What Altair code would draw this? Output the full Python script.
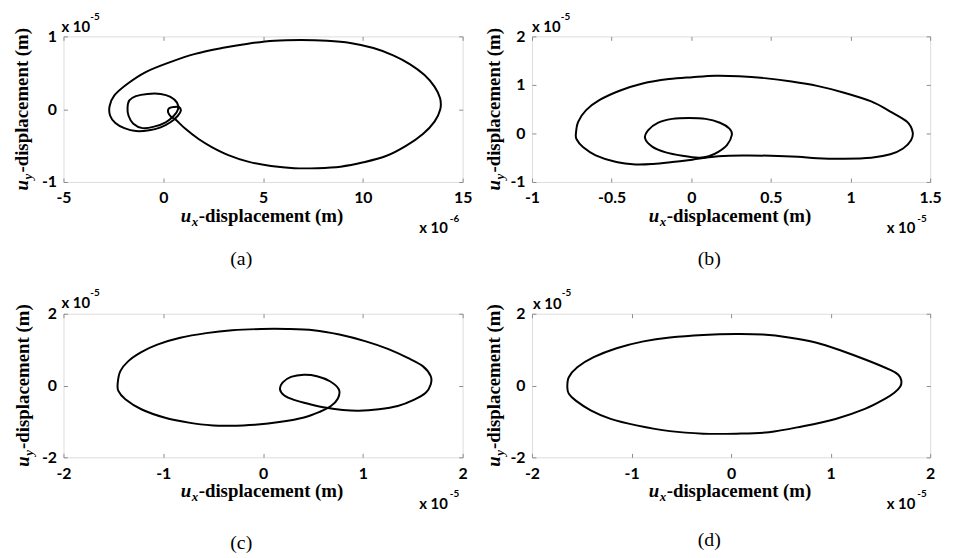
import altair as alt
import pandas as pd

# ---------------- data (x in multiplier units shown on each axis) ----------------
# (a) x in 1e-6 m, y in 1e-5 m
a_big_x = [0.61, 1.11, 1.77, 2.43, 3.26, 4.25, 5.40, 6.56, 7.72, 8.88, 10.03, 11.19, 12.18, 13.01,
           13.59, 13.88, 13.87, 13.59, 13.09, 12.35, 11.52, 10.53, 9.37, 8.21, 6.89, 5.57, 4.25, 2.93,
           1.60, 0.28, -0.88, -1.79, -2.45, -2.69, -2.66, -2.40, -1.95, -1.37, -0.71, -0.13, 0.36,
           0.73, 0.88, 0.78, 0.53, 0.28, 0.25, 0.41]
a_big_y = [-0.14, -0.27, -0.41, -0.52, -0.63, -0.72, -0.78, -0.81, -0.81, -0.79, -0.73, -0.64, -0.50,
           -0.34, -0.17, 0.00, 0.15, 0.31, 0.47, 0.62, 0.74, 0.84, 0.91, 0.94, 0.95, 0.94, 0.90, 0.84,
           0.76, 0.64, 0.51, 0.35, 0.19, 0.04, -0.09, -0.19, -0.26, -0.30, -0.29, -0.25, -0.18, -0.09,
           -0.02, 0.03, 0.03, 0.01, -0.05, -0.11]
a_mid_x = [-1.79, -1.70, -1.37, -0.79, -0.13, 0.36, 0.69, 0.74, 0.53, 0.12, -0.46, -1.04, -1.50, -1.74]
a_mid_y = [0.02, 0.12, 0.18, 0.21, 0.21, 0.17, 0.09, 0.00, -0.09, -0.18, -0.24, -0.26, -0.20, -0.09]

# (b) x in 1e-5 m, y in 1e-5 m
b_out_x = [-0.724, -0.71, -0.66, -0.575, -0.45, -0.305, -0.14, 0.006, 0.15, 0.30, 0.46, 0.63, 0.79,
           0.96, 1.13, 1.25, 1.355, 1.39, 1.38, 1.33, 1.25, 1.13, 0.96, 0.79, 0.67, 0.50, 0.32, 0.17,
           0.09, 0.006, -0.12, -0.24, -0.35, -0.47, -0.60, -0.68, -0.72]
b_out_y = [0.0, 0.24, 0.48, 0.69, 0.88, 1.03, 1.12, 1.16, 1.19, 1.18, 1.14, 1.07, 0.98, 0.84, 0.66,
           0.45, 0.24, 0.03, -0.14, -0.31, -0.43, -0.50, -0.52, -0.51, -0.48, -0.46, -0.455, -0.47,
           -0.50, -0.54, -0.59, -0.63, -0.64, -0.59, -0.45, -0.28, -0.12]
b_in_x = [-0.29, -0.27, -0.21, -0.12, -0.015, 0.09, 0.18, 0.24, 0.255, 0.224, 0.17, 0.11, 0.048,
          -0.056, -0.16, -0.243]
b_in_y = [-0.10, 0.07, 0.22, 0.30, 0.32, 0.30, 0.22, 0.10, -0.03, -0.24, -0.38, -0.47, -0.50,
          -0.46, -0.39, -0.276]

# (c) x in 1e-5 m, y in 1e-5 m
c_x = [-1.456, -1.43, -1.35, -1.22, -1.06, -0.83, -0.57, -0.31, -0.016, 0.24, 0.505, 0.765, 1.03,
       1.25, 1.45, 1.60, 1.68, 1.68, 1.63, 1.51, 1.35, 1.16, 0.96, 0.80, 0.635, 0.47, 0.31, 0.21,
       0.17, 0.195, 0.28, 0.41, 0.54, 0.67, 0.76, 0.75, 0.68, 0.57, 0.41, 0.18, -0.08, -0.34, -0.50,
       -0.73, -0.99, -1.22, -1.38, -1.45]
c_y = [0.08, 0.40, 0.68, 0.93, 1.14, 1.33, 1.46, 1.54, 1.575, 1.575, 1.54, 1.42, 1.23, 1.02, 0.77,
       0.54, 0.26, 0.03, -0.20, -0.40, -0.57, -0.66, -0.70, -0.68, -0.62, -0.52, -0.40, -0.27, -0.11,
       0.08, 0.24, 0.30, 0.26, 0.12, -0.11, -0.36, -0.57, -0.73, -0.89, -1.01, -1.09, -1.12, -1.11,
       -1.04, -0.89, -0.66, -0.38, -0.15]

# (d) x in 1e-5 m, y in 1e-5 m
d_x = [-1.645, -1.63, -1.545, -1.38, -1.15, -0.88, -0.615, -0.28, 0.05, 0.32, 0.58, 0.85, 1.11, 1.38,
       1.61, 1.68, 1.71, 1.70, 1.64, 1.545, 1.345, 1.05, 0.71, 0.38, 0.05, -0.28, -0.615, -0.95, -1.21,
       -1.41, -1.56, -1.63]
d_y = [-0.05, 0.23, 0.51, 0.79, 1.04, 1.23, 1.34, 1.41, 1.435, 1.42, 1.34, 1.20, 0.97, 0.69, 0.42,
       0.30, 0.14, -0.03, -0.20, -0.37, -0.65, -0.93, -1.14, -1.30, -1.34, -1.34, -1.27, -1.11, -0.93,
       -0.69, -0.42, -0.23]

# axis domains / ticks / labels
a_xdom, a_xticks, a_ydom, a_yticks = [-5, 15], [-5, 0, 5, 10, 15], [-1, 1], [-1, 0, 1]
b_xdom, b_xticks, b_ydom, b_yticks = [-1, 1.5], [-1, -0.5, 0, 0.5, 1, 1.5], [-1, 2], [-1, 0, 1, 2]
c_xdom, c_xticks, c_ydom, c_yticks = [-2, 2], [-2, -1, 0, 1, 2], [-2, 2], [-2, 0, 2]
d_xdom, d_xticks, d_ydom, d_yticks = [-2, 2], [-2, -1, 0, 1, 2], [-2, 2], [-2, 0, 2]

a_xexp, b_xexp, c_xexp, d_xexp = "-6", "-5", "-5", "-5"
y_exp = "-5"
captions = ["(a)", "(b)", "(c)", "(d)"]

GRAY = "#8c8c8c"
SANS = "Lato"
SERIF = "Liberation Serif"
one = pd.DataFrame({"k": [0]})


def loops(*pairs):
    rows = []
    for s, (xs, ys) in enumerate(pairs):
        for i, (x, y) in enumerate(zip(xs, ys)):
            rows.append({"x": x, "y": y, "seg": s, "i": i})
    return pd.DataFrame(rows)


def txt(text, x, y, size, font=SANS, weight="bold", style="normal", align="left",
        baseline="middle", angle=0):
    return alt.Chart(one).mark_text(
        text=text, font=font, fontSize=size, fontWeight=weight, fontStyle=style,
        align=align, baseline=baseline, angle=angle, color="black"
    ).encode(x=alt.value(x), y=alt.value(y))


def panel(df, xdom, xticks, ydom, yticks, w, h, xexp, caption, tl, cap_dy, ytx):
    axis_common = dict(title=None, domain=False, ticks=False, grid=True, gridColor=GRAY,
                       gridWidth=1, gridOpacity=1, labelFont=SANS, labelFontWeight="bold",
                       labelFontSize=16, labelColor="black", labelFlush=False,
                       labelOverlap=False, labelBound=False,
                       labelExpr="'' + datum.value")
    line = alt.Chart(df).mark_line(color="black", strokeWidth=2,
                                   interpolate="cardinal-closed").encode(
        x=alt.X("x:Q", scale=alt.Scale(domain=xdom, nice=False, zero=False),
                axis=alt.Axis(values=xticks, labelPadding=8,
                              gridDash=[4, h - 8, 4, 0], **axis_common)),
        y=alt.Y("y:Q", scale=alt.Scale(domain=ydom, nice=False, zero=False),
                axis=alt.Axis(values=yticks, labelPadding=7,
                              gridDash=[4, w - 8, 4, 0], **axis_common)),
        detail="seg:N",
        order="i:Q",
    )
    tlx, tly, tley = tl
    cx = w / 2
    start = cx - 83
    cy = h / 2
    ystart = cy + 82
    layers = [
        line,
        # x-axis title
        txt("u", start, h + 40, 19, SERIF, "bold", "italic", baseline="alphabetic"),
        txt("x", start + 11, h + 44, 13, SERIF, "bold", "italic", baseline="alphabetic"),
        txt("-displacement (m)", start + 18, h + 40, 19, SERIF, "bold", baseline="alphabetic"),
        # y-axis title (rotated)
        txt("u", ytx, ystart, 19, SERIF, "bold", "italic", baseline="alphabetic", angle=270),
        txt("y", ytx + 4, ystart - 11, 13, SERIF, "bold", "italic", baseline="alphabetic", angle=270),
        txt("-displacement (m)", ytx, ystart - 18, 19, SERIF, "bold", baseline="alphabetic", angle=270),
        # y multiplier (top-left)
        txt("x 10", tlx, tly, 15),
        txt(y_exp, tlx + 29, tley, 10),
        # x multiplier (bottom-right)
        txt("x 10", w - 15, h + 47, 15, align="right"),
        txt(xexp, w - 13, h + 37, 10),
        # caption
        txt(caption, cx - 22, h + cap_dy, 20, SERIF, "normal", align="center"),
    ]
    return alt.layer(*layers).properties(width=w, height=h)


pa = panel(loops((a_big_x, a_big_y), (a_mid_x, a_mid_y)), a_xdom, a_xticks, a_ydom, a_yticks,
           403, 147, a_xexp, captions[0], (-2, -9, -20), 78, -36)
pb = panel(loops((b_out_x, b_out_y), (b_in_x, b_in_y)), b_xdom, b_xticks, b_ydom, b_yticks,
           402, 147, b_xexp, captions[1], (0, -9, -20), 78, -32)
pc = panel(loops((c_x, c_y)), c_xdom, c_xticks, c_ydom, c_yticks,
           403, 145, c_xexp, captions[2], (-2, -11, -21), 87, -35)
pd_ = panel(loops((d_x, d_y)), d_xdom, d_xticks, d_ydom, d_yticks,
            402, 145, d_xexp, captions[3], (1, -10, -21), 83, -32)

chart = alt.concat(pa, pb, pc, pd_, columns=2, spacing={"row": 133, "column": 70},
                   bounds="flush").properties(
    padding={"left": 4, "top": 0, "right": 5, "bottom": 5}
).configure_view(stroke=GRAY, strokeWidth=1).configure(background="white")

chart.save("out.html", embed_options={"renderer": "svg", "actions": False})
